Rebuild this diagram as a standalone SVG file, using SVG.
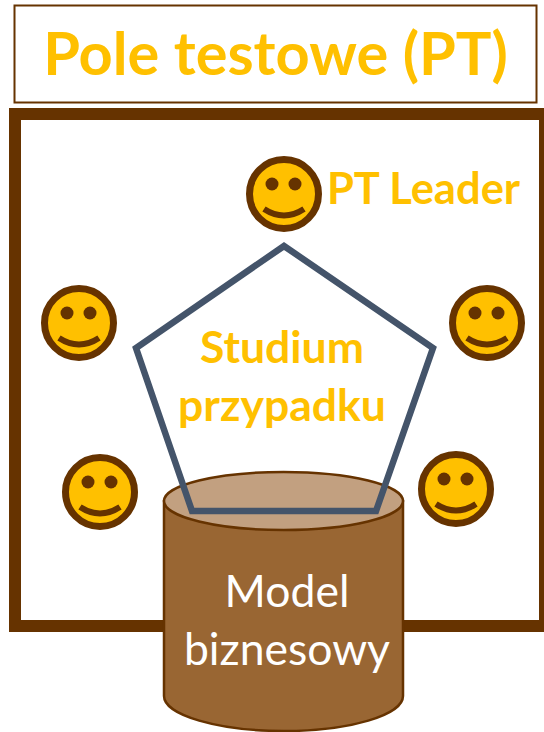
<svg xmlns="http://www.w3.org/2000/svg" width="544" height="732" viewBox="0 0 544 732">
<defs>
<style>
.t{font-family:Lato,"Open Sans",sans-serif;font-weight:700;fill:#FFC000;text-anchor:middle}
.w{font-family:Lato,"Open Sans",sans-serif;fill:#fff;text-anchor:middle;font-size:44.500px}
.f{fill:#FFC000;stroke:#663300;stroke-width:7}
.e{fill:#663300;stroke:none}
.m{fill:none;stroke:#663300;stroke-width:6}
</style>
<g id="smile">
<circle class="f" cx="0" cy="0" r="34.500"/>
<circle class="e" cx="-12" cy="-10" r="6.500"/>
<circle class="e" cx="11" cy="-10" r="6.500"/>
<path class="m" d="M-20 15Q0 28 20 15"/>
</g>
</defs>
<g id="title"><rect x="14.500" y="5.500" width="522" height="97" fill="#fff" stroke="#663300" stroke-width="2"/>
<text class="t" x="275.500" y="75" font-size="59.500">Pole testowe (PT)</text></g>
<g id="frame"><rect x="15" y="114" width="530" height="512" fill="#fff" stroke="#663300" stroke-width="12"/></g>
<g id="leader"><use href="#smile" x="284" y="194"/><text class="t" x="423.500" y="204" font-size="43.500">PT Leader</text></g>
<g id="p1"><use href="#smile" x="79" y="323"/></g>
<g id="p2"><use href="#smile" x="487" y="323"/></g>
<g id="p3"><use href="#smile" x="100" y="492"/></g>
<g id="p4"><use href="#smile" x="456" y="489"/></g>
<g id="db">
<path d="M164 501V696C164 715 218 731 284 731S403 715 403 696V501Z" fill="#996633" stroke="#663300" stroke-width="2.500"/>
<ellipse cx="283.500" cy="501" rx="119.500" ry="29" fill="#C2A080" stroke="#663300" stroke-width="2.500"/>
<text class="w" x="287" y="607">Model</text><text class="w" x="287" y="665">biznesowy</text>
</g>
<g id="case"><polygon points="284,246 433,348 376,511 192,511 136,348" fill="none" stroke="#44546A" stroke-width="6.500"/>
<text class="t" x="282" y="363" font-size="44.500">Studium</text><text class="t" x="282" y="421" font-size="44.500">przypadku</text></g>
<g id="connectors"></g>
</svg>
